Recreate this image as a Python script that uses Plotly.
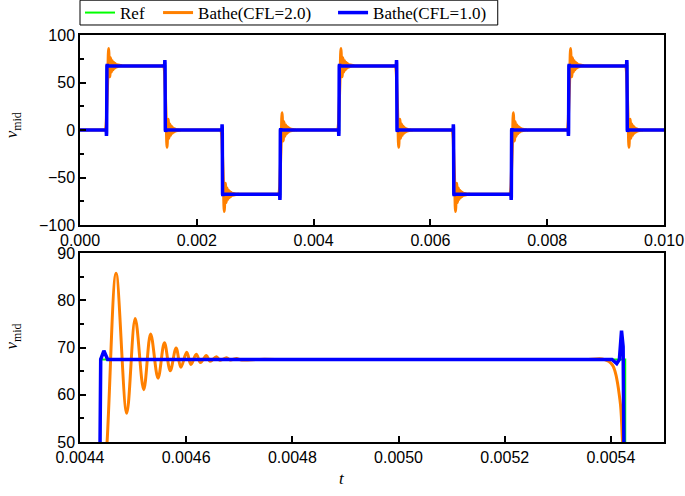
import plotly.graph_objects as go

# ---------------- data ----------------
# reference square-wave levels and jump times of the "Ref" solution
LEVELS = [0, 67.5, 0, -67.5, 0, 67.5, 0, -67.5, 0, 67.5, 0]
JUMPS = [0.00046, 0.00146, 0.00244, 0.00343, 0.004438, 0.005427,
         0.0064, 0.00739, 0.00837, 0.00937]
T_START = 0.0
T_END = 0.01

# Bathe(CFL=2.0) response around each jump: time offset (microseconds)
# and value as a fraction of the jump (0 = level before, 1 = level after)
ORANGE_DT_US = [-70, -40, -24, -10, -5, 13, 30, 50, 66, 82, 95, 109, 121, 132, 143,
                152, 163, 171, 181, 189, 200, 207, 219, 226, 238, 245, 257,
                264, 300, 330]
ORANGE_FRAC = [0.0, 0.0, 0.018, 0.127, 0.26, 0.74, 1.27, 0.831, 1.128, 0.905, 1.080,
               0.941, 1.052, 0.964, 1.036, 0.975, 1.022, 0.984, 1.016, 0.990,
               1.012, 0.994, 1.008, 0.997, 1.005, 0.998, 1.003, 0.999, 1.0, 1.0]

# Bathe(CFL=1.0) response around each jump
BLUE_DT_US = [-25, -16, -11, -7, -4, 1, 7, 14]
BLUE_FRAC = [0.0, 0.013, 0.0, -0.09, -0.04, 1.0, 1.027, 1.0]

X_TICKS_TOP = [0.0, 0.002, 0.004, 0.006, 0.008, 0.010]
Y_TICKS_TOP = [-100, -50, 0, 50, 100]
X_TICKS_BOT = [0.0044, 0.0046, 0.0048, 0.0050, 0.0052, 0.0054]
Y_TICKS_BOT = [50, 60, 70, 80, 90]

NAMES = ["Ref", "Bathe(CFL=2.0)", "Bathe(CFL=1.0)"]


def build(dts_us, fracs):
    xs = [T_START]
    ys = [LEVELS[0]]
    for k, T in enumerate(JUMPS):
        before = LEVELS[k]
        step = LEVELS[k + 1] - before
        for dt, f in zip(dts_us, fracs):
            xs.append(T + dt * 1e-6)
            ys.append(before + f * step)
    xs.append(T_END)
    ys.append(LEVELS[-1])
    return xs, ys


ref_x = [T_START] + JUMPS + [T_END]
ref_y = LEVELS + [LEVELS[-1]]
or_x, or_y = build(ORANGE_DT_US, ORANGE_FRAC)
bl_x, bl_y = build(BLUE_DT_US, BLUE_FRAC)

GREEN = "#00ff00"
ORANGE = "#ff8000"
BLUE = "#0000ff"
NB = "\u00a0"
LEG_NAMES = [NAMES[0] + NB * 2, NAMES[1] + NB * 4, NAMES[2] + NB]

fig = go.Figure()
for axis_idx, show in (("", True), ("2", False)):
    xa = "x" + axis_idx
    ya = "y" + axis_idx
    fig.add_trace(go.Scatter(x=ref_x, y=ref_y, mode="lines", name=LEG_NAMES[0],
                             line=dict(color=GREEN, width=2, shape="hv"),
                             xaxis=xa, yaxis=ya, showlegend=show))
    fig.add_trace(go.Scatter(x=or_x, y=or_y, mode="lines", name=LEG_NAMES[1],
                             line=dict(color=ORANGE, width=3, shape="spline", smoothing=1),
                             xaxis=xa, yaxis=ya, showlegend=show))
    fig.add_trace(go.Scatter(x=bl_x, y=bl_y, mode="lines", name=LEG_NAMES[2],
                             line=dict(color=BLUE, width=3.5),
                             xaxis=xa, yaxis=ya, showlegend=show))

TICKFONT = dict(family="Liberation Sans, Arial, sans-serif", size=16, color="black")
common = dict(showline=True, linecolor="black", linewidth=1.5, mirror=True,
              ticks="inside", ticklen=6, tickwidth=1.5, tickcolor="black",
              showgrid=False, zeroline=False, tickfont=TICKFONT)

TOP_DOM = [0.533, 1.0]
BOT_DOM = [0.0, 0.464]
SERIF = "Liberation Serif, Times New Roman, serif"

fig.update_layout(
    width=685, height=496,
    margin=dict(l=80, r=21, t=35, b=54, autoexpand=False),
    paper_bgcolor="white", plot_bgcolor="white",
    xaxis=dict(domain=[0, 1], range=[0, 0.01], tickvals=X_TICKS_TOP,
               tickformat=".3f", anchor="y", **common),
    yaxis=dict(domain=TOP_DOM, range=[-100, 100], tickvals=Y_TICKS_TOP,
               minor=dict(dtick=25, ticklen=4, tickwidth=1.5, tickcolor="black", ticks="inside"),
               anchor="x", **common),
    xaxis2=dict(domain=[0, 1], range=[0.0044, 0.0055], tickvals=X_TICKS_BOT,
                tickformat=".4f", anchor="y2", **common),
    yaxis2=dict(domain=BOT_DOM, range=[50, 90], tickvals=Y_TICKS_BOT,
                minor=dict(dtick=5, ticklen=4, tickwidth=1.5, tickcolor="black", ticks="inside"),
                anchor="x2", **common),
    legend=dict(orientation="h", x=0, xanchor="left", y=1.054, yanchor="middle",
                borderwidth=0, bgcolor="rgba(0,0,0,0)",
                font=dict(family=SERIF, size=17, color="black")),
    shapes=[
        # frame drawn around the legend entries
        dict(type="rect", xref="paper", yref="paper", x0=0, x1=0.7153,
             y0=1.0246, y1=1.0855, line=dict(color="black", width=1),
             fillcolor="rgba(0,0,0,0)", layer="above"),
    ],
    annotations=[
        dict(text="<i>v</i><sub>mid</sub>", xref="paper", yref="paper",
             x=-0.114, y=0.779, xanchor="center", yanchor="middle",
             textangle=-90, showarrow=False,
             font=dict(family=SERIF, size=17, color="black")),
        dict(text="<i>v</i><sub>mid</sub>", xref="paper", yref="paper",
             x=-0.114, y=0.26, xanchor="center", yanchor="middle",
             textangle=-90, showarrow=False,
             font=dict(family=SERIF, size=17, color="black")),
        dict(text="<i>t</i>", xref="paper", yref="paper",
             x=0.449, y=-0.0885, xanchor="center", yanchor="middle", showarrow=False,
             font=dict(family=SERIF, size=17, color="black")),
    ],
)

fig.write_html("out.html", config={"displayModeBar": False},
               post_script="document.body.style.margin='0px';")
